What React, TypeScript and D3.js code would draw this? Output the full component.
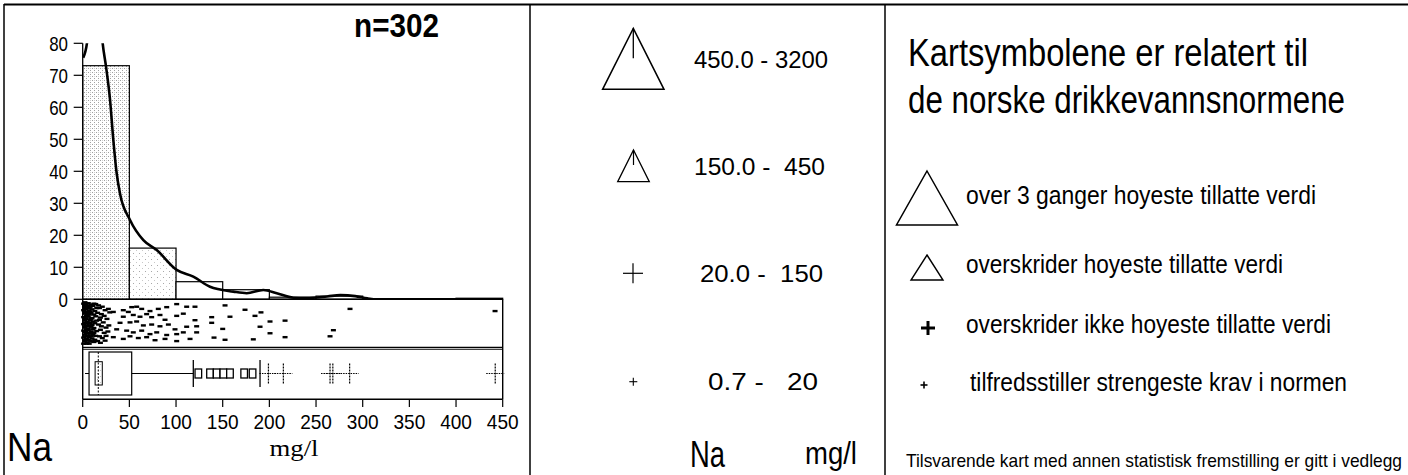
import React from 'react';
import * as d3 from 'd3';

// ---------- data ----------
const histEdges = [0, 50, 100, 150, 200, 250, 300, 350, 400, 450];
const histPercent = [73, 16, 5.5, 3, 0.66, 1.0, 0, 0, 0.33];
const histStipple = ['dense', 'light', 'none', 'none', 'none', 'none', 'none', 'none', 'none'];

const densityMgl = [0.6, 5, 10, 16, 21.4, 25, 29.3, 32.8, 36.4, 40, 50.7, 65, 79.3, 100.7, 118.5, 136.4, 161.4, 175.7, 193.5, 207.9, 225.7, 240, 262, 276, 292, 305, 316, 340, 450];
const densityPct = [75.5, 81, 110, 100, 80, 72.7, 62.3, 49.8, 39.4, 33, 24.8, 18.5, 15.4, 9.2, 7.1, 3.9, 2.4, 1.9, 2.9, 1.9, 0.5, 0.4, 0.9, 1.3, 1.0, 0.3, 0, 0, 0];

const yTicks = [0, 10, 20, 30, 40, 50, 60, 70, 80];
const xTicks = [0, 50, 100, 150, 200, 250, 300, 350, 400, 450];

// [mg/l, vertical jitter 0..1]
const stripPoints: [number, number][] = [
  [1, 0.05], [3, 0.08], [6, 0.04], [9, 0.07], [2, 0.13], [5, 0.16], [8, 0.12], [11, 0.1], [14, 0.06], [17, 0.09],
  [1, 0.2], [4, 0.23], [7, 0.21], [10, 0.18], [13, 0.22], [2, 0.28], [5, 0.31], [9, 0.27], [12, 0.3], [16, 0.26],
  [1, 0.36], [3, 0.39], [6, 0.35], [10, 0.38], [14, 0.34], [19, 0.37], [2, 0.44], [5, 0.47], [8, 0.43], [11, 0.46],
  [1, 0.52], [4, 0.55], [7, 0.51], [10, 0.54], [13, 0.5], [17, 0.53], [2, 0.6], [6, 0.62], [9, 0.58], [12, 0.61],
  [1, 0.67], [3, 0.7], [6, 0.66], [9, 0.69], [12, 0.72], [15, 0.68], [2, 0.76], [5, 0.78], [8, 0.74], [11, 0.77],
  [1, 0.83], [4, 0.86], [7, 0.82], [10, 0.85], [13, 0.88], [2, 0.92], [5, 0.94], [8, 0.9], [12, 0.93], [16, 0.91],
  [3, 0.03], [7, 0.97], [4, 0.64], [3, 0.49], [6, 0.26], [15, 0.44], [14, 0.79], [18, 0.15], [21, 0.12], [24, 0.2],
  [2, 0.02], [4, 0.11], [6, 0.09], [3, 0.17], [7, 0.15], [2, 0.24], [8, 0.24], [4, 0.33], [7, 0.3], [2, 0.41],
  [6, 0.41], [9, 0.4], [4, 0.5], [8, 0.49], [3, 0.57], [6, 0.56], [4, 0.73], [7, 0.72], [3, 0.8], [6, 0.8],
  [9, 0.8], [3, 0.89], [6, 0.88], [10, 0.92], [4, 0.97], [1, 0.97], [11, 0.64], [10, 0.72], [12, 0.05], [15, 0.15],
  [20, 0.29], [23, 0.33], [18, 0.42], [22, 0.48], [26, 0.4], [20, 0.57], [25, 0.6], [19, 0.65], [23, 0.72], [27, 0.69],
  [18, 0.8], [21, 0.84], [25, 0.79], [19, 0.95], [24, 0.9], [28, 0.55], [29, 0.25], [27.5, 0.17],
  [32.8, 0.24], [43.5, 0.2], [48.9, 0.24], [52.5, 0.13], [57.8, 0.12], [63.2, 0.17], [72.1, 0.22], [81, 0.17], [90, 0.13], [100.7, 0.06], [111.4, 0.12], [120.3, 0.12],
  [43.5, 0.35], [54.2, 0.31], [61.4, 0.35], [68.5, 0.29], [73.9, 0.36], [82.8, 0.31], [88.2, 0.42], [100.7, 0.33], [107.8, 0.28], [120.3, 0.43],
  [40, 0.49], [50.7, 0.48], [57.8, 0.46], [65, 0.55], [73.9, 0.53], [82.8, 0.57], [91.8, 0.53], [98.9, 0.64], [111.4, 0.58], [122.1, 0.57],
  [36.4, 0.64], [47.1, 0.67], [54.2, 0.71], [63.2, 0.67], [72.1, 0.75], [79.3, 0.71], [90, 0.77], [100.7, 0.75], [107.8, 0.71], [122.1, 0.71],
  [32.8, 0.82], [43.5, 0.86], [50.7, 0.8], [59.6, 0.84], [68.5, 0.82], [77.5, 0.89], [88.2, 0.86], [100.7, 0.91], [115, 0.86],
  [138.2, 0.36], [138.2, 0.49], [140.7, 0.83], [150, 0.63], [152.5, 0.09], [152.5, 0.88], [157.8, 0.35], [173.9, 0.19],
  [182.8, 0.87], [184.6, 0.33], [190, 0.58], [191, 0.25], [200.7, 0.46], [200.7, 0.73], [216.8, 0.44], [216.8, 0.82],
  [265, 0.8], [268.6, 0.66], [286.4, 0.17], [441.8, 0.22],
];

const boxWhiskerLow = 2.5;
const boxQ1 = 6.8;
const boxMedian = 16.7;
const boxNotch = [13.3, 21];
const boxQ3 = 52.5;
const boxWhiskerHigh = 118.5;
const outlierSquares = [123.9, 136.4, 143.5, 150.7, 157.8, 173, 182];
const outlierBars = [190];
const farOutliers = [199, 215, 265, 268, 286, 442];

const classLabels = ['450.0 - 3200', '150.0 -  450', '20.0 -  150', '0.7 -   20'];
const normTitle = ['Kartsymbolene er relatert til', 'de norske drikkevannsnormene'];
const normLabels = [
  'over 3 ganger hoyeste tillatte verdi',
  'overskrider hoyeste tillatte verdi',
  'overskrider ikke hoyeste tillatte verdi',
  'tilfredsstiller strengeste krav i normen',
];
const footnote = 'Tilsvarende kart med annen statistisk fremstilling er gitt i vedlegg';
const element = 'Na';
const unit = 'mg/l';
const sampleLabel = 'n=302';

// ---------- layout ----------
const W = 1408;
const H = 475;
const SANS = "'Liberation Sans Narrow', 'Liberation Sans', Arial, sans-serif";
const SANSW = "'Liberation Sans', Arial, sans-serif";
const SERIF = "'Liberation Serif', 'Times New Roman', serif";

const x = d3.scaleLinear().domain([0, 450]).range([82.7, 502.7]);
const y = d3.scaleLinear().domain([0, 80]).range([299.3, 43.3]);
const stripY = d3.scaleLinear().domain([0, 1]).range([301.5, 345]);
const boxTop = 352;
const boxBottom = 395;
const boxMid = (boxTop + boxBottom) / 2;

type TProps = {
  x: number; y: number; len?: number; size: number; sy?: number; anchor?: string; weight?: string | number; family?: string; children: React.ReactNode;
};
const T = ({ x, y, len, size, sy = 1, anchor = 'start', weight = 'normal', family = SANS, children }: TProps) => (
  <text
    x={0}
    y={0}
    transform={`translate(${x},${y}) scale(1,${sy})`}
    fontSize={size}
    fontFamily={family}
    fontWeight={weight}
    textAnchor={anchor}
    textLength={len}
    lengthAdjust={len ? 'spacingAndGlyphs' : undefined}
    fill="#000"
    style={{ whiteSpace: 'pre' }}
  >
    {children}
  </text>
);

const tri = (cx: number, apexY: number, baseY: number, halfW: number) =>
  `M${cx},${apexY}L${cx + halfW},${baseY}L${cx - halfW},${baseY}Z`;

export default function App() {
  const densityLine = d3
    .line<number>()
    .x((_, i) => x(densityMgl[i]))
    .y((_, i) => y(densityPct[i]))
    .curve(d3.curveMonotoneX);

  const bins = histPercent.map((v, i) => ({ x0: histEdges[i], x1: histEdges[i + 1], v, st: histStipple[i] }));

  return (
    <svg
      width={W}
      height={H}
      viewBox={`0 0 ${W} ${H}`}
      style={{ position: 'absolute', left: 0, top: 0, display: 'block', background: '#fff' }}
    >
      <defs>
        <pattern id="stDense" width="4" height="4" patternUnits="userSpaceOnUse">
          <rect width="4" height="4" fill="#fff" />
          <rect x="0" y="0" width="1" height="1" fill="#a0a0a0" />
          <rect x="2" y="2" width="1" height="1" fill="#a0a0a0" />
          <rect x="2" y="0" width="1" height="1" fill="#d0d0d0" />
        </pattern>
        <pattern id="stLight" width="6" height="6" patternUnits="userSpaceOnUse">
          <rect width="6" height="6" fill="#fff" />
          <rect x="1" y="1" width="1" height="1" fill="#a8a8a8" />
          <rect x="4" y="4" width="1" height="1" fill="#c8c8c8" />
        </pattern>
        <clipPath id="histClip">
          <rect x={x(0)} y={y(80)} width={x(450) - x(0)} height={y(0) - y(80)} />
        </clipPath>
      </defs>
      <rect x={0} y={0} width={W} height={H} fill="#fff" />

      {/* frame */}
      <line x1={4} x2={W} y1={4.5} y2={4.5} stroke="#000" strokeWidth={2} />
      <line x1={4} x2={4} y1={4} y2={H} stroke="#000" strokeWidth={1.5} />
      <line x1={530} x2={530} y1={4} y2={H} stroke="#000" strokeWidth={1.5} />
      <line x1={885} x2={885} y1={4} y2={H} stroke="#000" strokeWidth={1.5} />

      {/* ---------- left panel: histogram ---------- */}
      <T x={354} y={36.5} size={33} weight="bold" len={85}>{sampleLabel}</T>

      {bins.map((b, i) =>
        b.v > 0 ? (
          <rect
            key={i}
            x={x(b.x0)}
            y={y(b.v)}
            width={x(b.x1) - x(b.x0)}
            height={y(0) - y(b.v)}
            fill={b.st === 'dense' ? 'url(#stDense)' : b.st === 'light' ? 'url(#stLight)' : '#fff'}
            stroke="#000"
            strokeWidth={1.2}
          />
        ) : null
      )}

      <path d={densityLine(densityMgl) || ''} fill="none" stroke="#000" strokeWidth={2.6} clipPath="url(#histClip)" />

      {/* y axis */}
      <line x1={x(0)} x2={x(0)} y1={y(80)} y2={y(0)} stroke="#000" strokeWidth={1.3} />
      {yTicks.map((t) => (
        <g key={t}>
          <line x1={x(0) - 9} x2={x(0)} y1={y(t)} y2={y(t)} stroke="#000" strokeWidth={1.2} />
          <T x={68} y={y(t) + 7.5} size={21} anchor="end" len={String(t).length * 9.4}>{String(t)}</T>
        </g>
      ))}
      <line x1={x(0)} x2={x(450)} y1={y(0)} y2={y(0)} stroke="#000" strokeWidth={1.6} />

      {/* strip plot */}
      <line x1={x(450)} x2={x(450)} y1={y(0)} y2={399.3} stroke="#000" strokeWidth={1.4} />
      <line x1={x(0)} x2={x(0)} y1={y(0)} y2={399.3} stroke="#000" strokeWidth={1.4} />
      <line x1={x(0)} x2={x(450)} y1={347.3} y2={347.3} stroke="#000" strokeWidth={1.3} />
      <line x1={x(0)} x2={x(450)} y1={349.3} y2={349.3} stroke="#000" strokeWidth={1.1} />
      {stripPoints.map(([v, j], i) => (
        <rect key={i} x={x(v) - 2.5} y={stripY(j) - 1.2} width={5} height={2.4} fill="#000" />
      ))}

      {/* boxplot */}
      <line x1={x(boxWhiskerLow)} x2={x(boxQ1)} y1={boxMid} y2={boxMid} stroke="#000" strokeWidth={1} />
      <rect x={x(boxQ1)} y={boxTop} width={x(boxQ3) - x(boxQ1)} height={boxBottom - boxTop} fill="#fff" stroke="#000" strokeWidth={1.2} />
      <rect
        x={x(boxNotch[0])}
        y={361.7}
        width={x(boxNotch[1]) - x(boxNotch[0])}
        height={23.3}
        fill="url(#stLight)"
        stroke="#000"
        strokeWidth={1}
      />
      <line x1={x(boxMedian)} x2={x(boxMedian)} y1={boxTop} y2={boxBottom} stroke="#000" strokeWidth={1} strokeDasharray="2,1.5" />
      <line x1={x(boxQ3)} x2={x(boxWhiskerHigh)} y1={boxMid} y2={boxMid} stroke="#000" strokeWidth={1.1} />
      <line x1={x(boxWhiskerHigh)} x2={x(boxWhiskerHigh)} y1={360} y2={387} stroke="#000" strokeWidth={1.3} />
      {outlierSquares.map((v, i) => (
        <rect key={i} x={x(v) - 3.3} y={boxMid - 4.5} width={6.6} height={9} fill="#fff" stroke="#000" strokeWidth={1.3} />
      ))}
      {outlierBars.map((v, i) => (
        <line key={i} x1={x(v)} x2={x(v)} y1={360} y2={387} stroke="#000" strokeWidth={1.3} />
      ))}
      {farOutliers.map((v, i) => (
        <g key={i}>
          <line x1={x(v) - 9} x2={x(v) + 9} y1={boxMid} y2={boxMid} stroke="#000" strokeWidth={1} strokeDasharray="1.5,1" />
          <line x1={x(v)} x2={x(v)} y1={boxMid - 10} y2={boxMid + 10} stroke="#000" strokeWidth={1.2} strokeDasharray="2,1" />
        </g>
      ))}

      {/* x axis */}
      <line x1={x(0)} x2={x(450)} y1={399.3} y2={399.3} stroke="#000" strokeWidth={1.6} />
      {xTicks.map((t) => (
        <g key={t}>
          <line x1={x(t)} x2={x(t)} y1={399.3} y2={407} stroke="#000" strokeWidth={1.2} />
          <T x={x(t)} y={428.5} size={21} anchor="middle" len={String(t).length * 10.6}>{String(t)}</T>
        </g>
      ))}
      <T x={7} y={461} size={40} len={45}>{element}</T>
      <T x={294} y={456} size={24} anchor="middle" family={SERIF} len={49}>{unit}</T>

      {/* ---------- middle panel: class legend ---------- */}
      <path d={tri(633.3, 28.3, 89.3, 30.7)} fill="none" stroke="#000" strokeWidth={1.5} />
      <line x1={633.3} x2={633.3} y1={28.3} y2={58.3} stroke="#000" strokeWidth={1.3} />
      <path d={tri(633.5, 150, 181.7, 15.8)} fill="none" stroke="#000" strokeWidth={1.3} />
      <line x1={633.5} x2={633.5} y1={150} y2={165} stroke="#000" strokeWidth={1.2} />
      <line x1={623} x2={643} y1={273.3} y2={273.3} stroke="#000" strokeWidth={1.2} />
      <line x1={633} x2={633} y1={263.3} y2={283.3} stroke="#000" strokeWidth={1.2} />
      <line x1={629.3} x2={637.3} y1={381.7} y2={381.7} stroke="#000" strokeWidth={1.1} />
      <line x1={633.3} x2={633.3} y1={377.7} y2={385.7} stroke="#000" strokeWidth={1.1} />

      <T x={694} y={68} size={24} family={SANSW} len={134}>{classLabels[0]}</T>
      <T x={694} y={175} size={24} family={SANSW} len={131}>{classLabels[1]}</T>
      <T x={700} y={282} size={24} family={SANSW} len={123}>{classLabels[2]}</T>
      <T x={708} y={390} size={24} family={SANSW} len={110}>{classLabels[3]}</T>
      <T x={690} y={467} size={36} len={35}>{element}</T>
      <T x={805} y={464} size={31} family={SANSW} len={52}>{unit}</T>

      {/* ---------- right panel: norm legend ---------- */}
      <T x={908} y={66} size={34} sy={1.12} len={400}>{normTitle[0]}</T>
      <T x={908} y={113} size={34} sy={1.12} len={437}>{normTitle[1]}</T>

      <path d={tri(927, 171, 225, 30.5)} fill="none" stroke="#000" strokeWidth={1.5} />
      <T x={966} y={204} size={26} len={350}>{normLabels[0]}</T>

      <path d={tri(927, 255, 280, 16)} fill="none" stroke="#000" strokeWidth={1.4} />
      <T x={966} y={273} size={26} len={317}>{normLabels[1]}</T>

      <line x1={921} x2={935} y1={328} y2={328} stroke="#000" strokeWidth={3} />
      <line x1={928} x2={928} y1={321} y2={335} stroke="#000" strokeWidth={3} />
      <T x={966} y={333} size={26} len={365}>{normLabels[2]}</T>

      <line x1={920.5} x2={927.5} y1={385} y2={385} stroke="#000" strokeWidth={1.6} />
      <line x1={924} x2={924} y1={381.5} y2={388.5} stroke="#000" strokeWidth={1.6} />
      <T x={970} y={391} size={26} len={377}>{normLabels[3]}</T>

      <T x={906} y={467} size={17} sy={1.1} len={496}>{footnote}</T>
    </svg>
  );
}
